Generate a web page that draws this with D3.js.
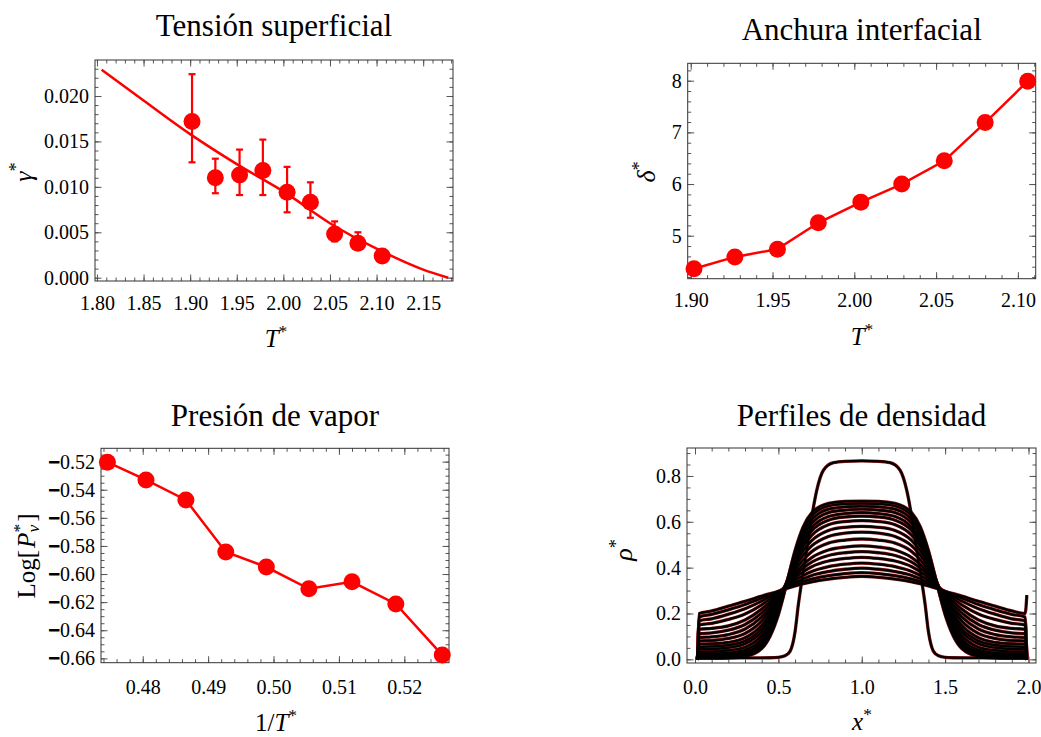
<!DOCTYPE html>
<html>
<head>
<meta charset="utf-8">
<script src="https://cdn.jsdelivr.net/npm/d3@7"></script>
<style>
  body { margin: 0; background: #fff; }
  svg, svg text { font-family: "Liberation Serif", "Times New Roman", serif; }
</style>
</head>
<body>
<script>
// ---- Tensión superficial ----
const tempT = [1.902, 1.927, 1.953, 1.978, 2.004, 2.029, 2.055, 2.080, 2.106];
const gammaVal = [0.0172, 0.0110, 0.0113, 0.0118, 0.0094, 0.0083, 0.0048, 0.0038, 0.0024];
const gammaHi = [0.0224, 0.0131, 0.0141, 0.0152, 0.0122, 0.0105, 0.0062, 0.0050, 0.0030];
const gammaLo = [0.0127, 0.0093, 0.0091, 0.0091, 0.0072, 0.0066, 0.0040, 0.0031, 0.0020];
const fitT = [1.805, 1.85, 1.90, 1.95, 2.00, 2.05, 2.10, 2.15, 2.177];
const fitGamma = [0.0229, 0.0195, 0.0158, 0.0125, 0.0095, 0.0060, 0.0032, 0.0009, 0.0000];
const gammaXTicks = [1.80, 1.85, 1.90, 1.95, 2.00, 2.05, 2.10, 2.15];
const gammaYTicks = [0.000, 0.005, 0.010, 0.015, 0.020];

// ---- Anchura interfacial ----
const deltaVal = [4.36, 4.59, 4.74, 5.25, 5.65, 6.00, 6.45, 7.19, 7.99];
const deltaXTicks = [1.90, 1.95, 2.00, 2.05, 2.10];
const deltaYTicks = [5, 6, 7, 8];

// ---- Presión de vapor ----
const invT = [0.4746, 0.4805, 0.4866, 0.4927, 0.4989, 0.5054, 0.5120, 0.5187, 0.5258];
const logPv = [-0.5204, -0.5330, -0.5473, -0.5843, -0.5950, -0.6105, -0.6055, -0.6213, -0.6577];
const pvXTicks = [0.48, 0.49, 0.50, 0.51, 0.52];
const pvYTicks = [-0.66, -0.64, -0.62, -0.60, -0.58, -0.56, -0.54, -0.52];

// ---- Perfiles de densidad ----
const profX = [0.015, 0.025, 0.1, 0.2, 0.3, 0.4, 0.5, 0.55, 0.6, 0.65, 0.7, 0.8, 0.9, 1.0,
               1.1, 1.2, 1.3, 1.35, 1.4, 1.45, 1.5, 1.6, 1.7, 1.8, 1.9, 1.98, 1.99];
const profiles = [
  [0, .004, .004, .005, .012, .047, .195, .332, .475, .580, .639, .680, .689, .690, .689, .680, .639, .580, .475, .332, .195, .047, .012, .005, .004, .004, 0],
  [0, .008, .008, .010, .019, .058, .204, .333, .466, .566, .625, .669, .678, .680, .678, .669, .625, .566, .466, .333, .204, .058, .019, .010, .008, .008, 0],
  [0, .012, .013, .015, .025, .067, .211, .333, .457, .552, .609, .655, .665, .668, .665, .655, .609, .552, .457, .333, .211, .067, .025, .015, .013, .012, 0],
  [0, .018, .019, .022, .033, .078, .219, .333, .448, .537, .593, .640, .651, .655, .651, .640, .593, .537, .448, .333, .219, .078, .033, .022, .019, .018, 0],
  [0, .025, .026, .029, .042, .090, .227, .333, .438, .521, .575, .623, .636, .640, .636, .623, .575, .521, .438, .333, .227, .090, .042, .029, .026, .025, 0],
  [0, .033, .034, .039, .053, .105, .238, .336, .432, .509, .561, .607, .621, .625, .621, .607, .561, .509, .432, .336, .238, .105, .053, .039, .034, .033, 0],
  [0, .044, .045, .051, .068, .121, .248, .337, .424, .494, .541, .587, .601, .605, .601, .587, .541, .494, .424, .337, .248, .121, .068, .051, .045, .044, 0],
  [0, .054, .056, .062, .080, .134, .255, .335, .413, .475, .518, .562, .576, .580, .576, .562, .518, .475, .413, .335, .255, .134, .080, .062, .056, .054, 0],
  [0, .066, .068, .074, .094, .148, .261, .333, .401, .456, .495, .536, .551, .555, .551, .536, .495, .456, .401, .333, .261, .148, .094, .074, .068, .066, 0],
  [0, .080, .082, .091, .113, .167, .269, .330, .388, .435, .470, .507, .520, .525, .520, .507, .470, .435, .388, .330, .269, .167, .113, .091, .082, .080, 0],
  [0, .095, .098, .108, .132, .185, .274, .327, .375, .415, .444, .477, .490, .495, .490, .477, .444, .415, .375, .327, .274, .185, .132, .108, .098, .095, 0],
  [0, .112, .115, .127, .152, .202, .281, .325, .366, .399, .424, .453, .465, .470, .465, .453, .424, .399, .366, .325, .281, .202, .152, .127, .115, .112, 0],
  [0, .131, .135, .146, .172, .219, .287, .324, .356, .383, .404, .429, .440, .445, .440, .429, .404, .383, .356, .324, .287, .219, .172, .146, .135, .131, 0],
  [0, .150, .157, .174, .198, .238, .291, .319, .345, .366, .383, .404, .415, .420, .415, .404, .383, .366, .345, .319, .291, .238, .198, .174, .157, .150, 0],
  [0, .168, .177, .197, .221, .254, .294, .316, .335, .352, .366, .383, .393, .398, .393, .383, .366, .352, .335, .316, .294, .254, .221, .197, .177, .168, 0],
  [0, .185, .196, .216, .239, .267, .296, .312, .327, .340, .350, .365, .374, .378, .374, .365, .350, .340, .327, .312, .296, .267, .239, .216, .196, .185, 0],
  [0, .200, .211, .232, .253, .276, .297, .309, .320, .330, .338, .350, .358, .362, .358, .350, .338, .330, .320, .309, .297, .276, .253, .232, .211, .200, .280]
];
// coldest profile, sharp interfaces
const sharpX = [0.015, 0.025, 0.1, 0.3, 0.45, 0.5, 0.54, 0.57, 0.6, 0.62, 0.64, 0.67, 0.7, 0.73, 0.77, 0.83, 0.9, 1.0,
                1.1, 1.17, 1.23, 1.27, 1.3, 1.33, 1.36, 1.38, 1.4, 1.43, 1.46, 1.5, 1.55, 1.7, 1.9, 1.98, 1.99];
const sharpRho = [0, .006, .006, .006, .007, .009, .016, .035, .12, .24, .34, .475, .62, .737, .825, .858, .864, .866,
                  .864, .858, .825, .737, .62, .475, .34, .24, .12, .035, .016, .009, .007, .006, .006, .006, 0];
const rhoXTicks = [0, 0.5, 1.0, 1.5, 2.0];
const rhoYTicks = [0, 0.2, 0.4, 0.6, 0.8];

const serif = '"Liberation Serif", "Times New Roman", serif';

const svg = d3.select("body").append("svg")
    .attr("width", 1041)
    .attr("height", 737)
    .style("font-family", serif);

const red = "#ff0000";
const radius = 8.5;

function minorTicks(dom, step) {
    const a = Math.ceil(dom[0] / step - 1e-6), b = Math.floor(dom[1] / step + 1e-6);
    return d3.range(a, b + 1).map(i => +(i * step).toFixed(6));
}

function addAxis(g, maker, scale, tr, values, size, fmt, pad) {
    const ax = maker(scale)
        .tickValues(values)
        .tickSizeInner(-size)
        .tickSizeOuter(0)
        .tickPadding(pad || 0)
        .tickFormat(fmt || (() => ""));
    const a = g.append("g").attr("transform", tr).call(ax);
    a.attr("font-family", null).attr("font-size", 20);
    a.select(".domain").remove();
    a.selectAll(".tick line").attr("stroke", "#555");
    a.selectAll(".tick text").attr("fill", "#000").style("font-family", serif);
    return a;
}

function makePanel(p) {
    const x = d3.scaleLinear().domain(p.xDom).range([p.left, p.right]);
    const y = d3.scaleLinear().domain(p.yDom).range([p.bottom, p.top]);
    const g = svg.append("g");
    const xm = minorTicks(p.xDom, p.xStep), ym = minorTicks(p.yDom, p.yStep);

    // minor ticks on all four sides
    addAxis(g, d3.axisBottom, x, `translate(0,${p.bottom})`, xm, 3.5);
    addAxis(g, d3.axisTop, x, `translate(0,${p.top})`, xm, 3.5);
    addAxis(g, d3.axisLeft, y, `translate(${p.left},0)`, ym, 3.5);
    addAxis(g, d3.axisRight, y, `translate(${p.right},0)`, ym, 3.5);
    // major ticks, labels only bottom / left
    addAxis(g, d3.axisBottom, x, `translate(0,${p.bottom})`, p.xTicks, 6.5, p.xFmt, p.xPad);
    addAxis(g, d3.axisTop, x, `translate(0,${p.top})`, p.xTicks, 6.5);
    const yAx = addAxis(g, d3.axisLeft, y, `translate(${p.left},0)`, p.yTicks, 6.5, p.yFmt, 6);
    addAxis(g, d3.axisRight, y, `translate(${p.right},0)`, p.yTicks, 6.5);

    g.append("rect")
        .attr("x", p.left).attr("y", p.top)
        .attr("width", p.right - p.left).attr("height", p.bottom - p.top)
        .attr("fill", "none")
        .attr("stroke", "#333")
        .attr("stroke-width", 1);

    svg.append("text")
        .attr("x", (p.left + p.right) / 2)
        .attr("y", p.titleY)
        .attr("text-anchor", "middle")
        .attr("font-size", 31)
        .text(p.title);

    return {x, y, g, yAx};
}

function starLabel(t, base, italic) {
    t.append("tspan").attr("font-style", italic ? "italic" : null).text(base);
    t.append("tspan").attr("font-size", "0.7em").attr("dy", "-0.55em").text("*");
}

// ================= Tensión superficial =================
const p1 = makePanel({
    left: 95, right: 453, top: 60, bottom: 281,
    xDom: [1.7979, 2.182], yDom: [-0.00036, 0.02396],
    xTicks: gammaXTicks, yTicks: gammaYTicks, xStep: 0.01, yStep: 0.001,
    xFmt: d3.format(".2f"), yFmt: d3.format(".3f"), xPad: 15,
    title: "Tensión superficial", titleY: 36
});

const fitLine = d3.line()
    .x(d => p1.x(d[0]))
    .y(d => p1.y(d[1]))
    .curve(d3.curveMonotoneX);

p1.g.append("path")
    .datum(d3.zip(fitT, fitGamma))
    .attr("d", fitLine)
    .attr("fill", "none")
    .attr("stroke", red)
    .attr("stroke-width", 2.5);

const errG = p1.g.append("g").attr("stroke", red).attr("stroke-width", 2.2);
tempT.forEach((t, i) => {
    const cx = p1.x(t);
    errG.append("line").attr("x1", cx).attr("x2", cx)
        .attr("y1", p1.y(gammaLo[i])).attr("y2", p1.y(gammaHi[i]));
    [gammaLo[i], gammaHi[i]].forEach(v => {
        errG.append("line").attr("x1", cx - 3.5).attr("x2", cx + 3.5)
            .attr("y1", p1.y(v)).attr("y2", p1.y(v));
    });
});

p1.g.selectAll("circle.pt")
    .data(d3.zip(tempT, gammaVal))
    .join("circle")
    .attr("cx", d => p1.x(d[0]))
    .attr("cy", d => p1.y(d[1]))
    .attr("r", radius)
    .attr("fill", red);

let lab = svg.append("text").attr("font-size", 26).attr("text-anchor", "middle")
    .attr("transform", "translate(32,172) rotate(-90)");
starLabel(lab, "γ", true);
lab = svg.append("text").attr("font-size", 25).attr("text-anchor", "middle")
    .attr("x", 276).attr("y", 347);
starLabel(lab, "T", true);

// ================= Anchura interfacial =================
const p2 = makePanel({
    left: 687.7, right: 1035.7, top: 63.3, bottom: 278.7,
    xDom: [1.89815, 2.11089], yDom: [4.168, 8.337],
    xTicks: deltaXTicks, yTicks: deltaYTicks, xStep: 0.01, yStep: 0.2,
    xFmt: d3.format(".2f"), yFmt: d3.format("d"), xPad: 14,
    title: "Anchura interfacial", titleY: 40
});

const line2 = d3.line().x(d => p2.x(d[0])).y(d => p2.y(d[1]));
p2.g.append("path")
    .datum(d3.zip(tempT, deltaVal))
    .attr("d", line2)
    .attr("fill", "none")
    .attr("stroke", red)
    .attr("stroke-width", 2.5);
p2.g.selectAll("circle.pt")
    .data(d3.zip(tempT, deltaVal))
    .join("circle")
    .attr("cx", d => p2.x(d[0]))
    .attr("cy", d => p2.y(d[1]))
    .attr("r", radius)
    .attr("fill", red);

lab = svg.append("text").attr("font-size", 26).attr("text-anchor", "middle")
    .attr("transform", "translate(655,172) rotate(-90)");
starLabel(lab, "δ", true);
lab = svg.append("text").attr("font-size", 25).attr("text-anchor", "middle")
    .attr("x", 862).attr("y", 345);
starLabel(lab, "T", true);

// ================= Presión de vapor =================
const p3 = makePanel({
    left: 101, right: 449, top: 448.3, bottom: 662.7,
    xDom: [0.47362, 0.52683], yDom: [-0.6631, -0.5105],
    xTicks: pvXTicks, yTicks: pvYTicks, xStep: 0.002, yStep: 0.005,
    xFmt: d3.format(".2f"), yFmt: d3.format(".2f"), xPad: 17,
    title: "Presión de vapor", titleY: 426
});
// Mathematica style heavy minus sign
p3.yAx.selectAll(".tick text").each(function (d) {
    const t = d3.select(this).text("");
    t.append("tspan").attr("font-weight", "bold")
        .attr("stroke", "#000").attr("stroke-width", 1.1).text("−");
    t.append("tspan").text(d3.format(".2f")(Math.abs(d)));
});

const line3 = d3.line().x(d => p3.x(d[0])).y(d => p3.y(d[1]));
p3.g.append("path")
    .datum(d3.zip(invT, logPv))
    .attr("d", line3)
    .attr("fill", "none")
    .attr("stroke", red)
    .attr("stroke-width", 2.5);
p3.g.selectAll("circle.pt")
    .data(d3.zip(invT, logPv))
    .join("circle")
    .attr("cx", d => p3.x(d[0]))
    .attr("cy", d => p3.y(d[1]))
    .attr("r", radius)
    .attr("fill", red);

lab = svg.append("text").attr("font-size", 25).attr("text-anchor", "middle")
    .attr("transform", "translate(35,556) rotate(-90)");
lab.append("tspan").text("Log[");
lab.append("tspan").attr("font-style", "italic").attr("dx", 2).text("P");
lab.append("tspan").attr("font-size", "0.7em").attr("dy", "-0.55em").text("*");
lab.append("tspan").attr("font-size", "0.7em").attr("font-style", "italic")
    .attr("dx", "-0.5em").attr("dy", "0.8em").text("v");
lab.append("tspan").attr("dy", "-0.17em").attr("dx", 3).text("]");
lab = svg.append("text").attr("font-size", 25).attr("text-anchor", "middle")
    .attr("x", 276).attr("y", 731);
lab.append("tspan").text("1/");
starLabel(lab, "T", true);

// ================= Perfiles de densidad =================
const p4 = makePanel({
    left: 687, right: 1036, top: 448, bottom: 663,
    xDom: [-0.048, 2.045], yDom: [-0.016, 0.922],
    xTicks: rhoXTicks, yTicks: rhoYTicks, xStep: 0.1, yStep: 0.05,
    xFmt: d3.format(".1f"), yFmt: d3.format(".1f"), xPad: 17,
    title: "Perfiles de densidad", titleY: 426
});

const line4 = d3.line()
    .x(d => p4.x(d[0]))
    .y(d => p4.y(d[1]))
    .curve(d3.curveMonotoneX);

const allProfiles = profiles.map(r => d3.zip(profX, r)).concat([d3.zip(sharpX, sharpRho)]);
const profG = p4.g.append("g").attr("fill", "none");
profG.selectAll("path.under")
    .data(allProfiles)
    .join("path")
    .attr("class", "under")
    .attr("d", line4)
    .attr("stroke", "#7a1414")
    .attr("stroke-width", 3.3);
profG.selectAll("path.over")
    .data(allProfiles)
    .join("path")
    .attr("class", "over")
    .attr("d", line4)
    .attr("stroke", "#000")
    .attr("stroke-width", 2.1);

lab = svg.append("text").attr("font-size", 26).attr("text-anchor", "middle")
    .attr("transform", "translate(632,550) rotate(-90)");
starLabel(lab, "ρ", true);
lab = svg.append("text").attr("font-size", 25).attr("text-anchor", "middle")
    .attr("x", 862).attr("y", 730);
starLabel(lab, "x", true);
</script>
</body>
</html>
